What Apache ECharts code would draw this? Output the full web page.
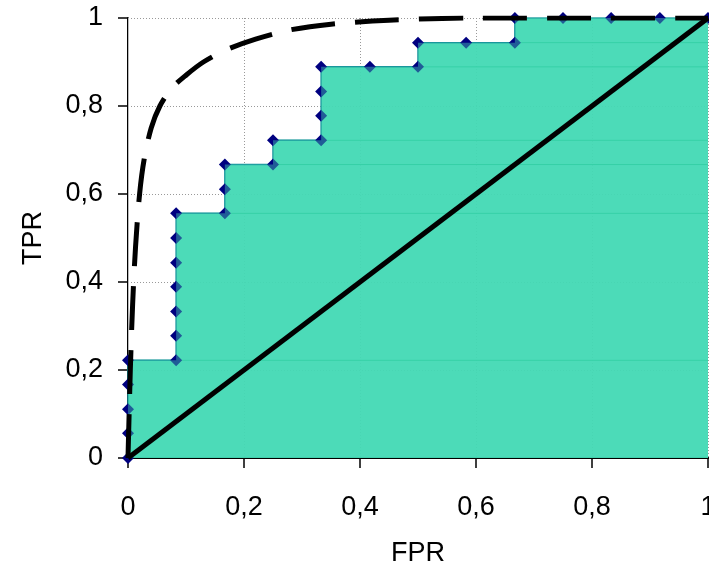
<!DOCTYPE html>
<html>
<head>
<meta charset="utf-8">
<script src="https://cdn.jsdelivr.net/npm/echarts@6/dist/echarts.min.js"></script>
<style>html,body{margin:0;padding:0;background:#fff;}#c{width:709px;height:567px;}</style>
</head>
<body>
<div id="c"></div>
<script>
// Empirical ROC step curve (FPR, TPR)
const stepFpr = [0,0,0,0,0,
  0.083,0.083,0.083,0.083,0.083,0.083,0.083,
  0.167,0.167,0.167,
  0.25,0.25,
  0.333,0.333,0.333,0.333,
  0.417,
  0.5,0.5,
  0.583,
  0.667,0.667,
  0.75,0.833,0.917,1];
const stepTpr = [0,0.056,0.111,0.167,0.222,
  0.222,0.278,0.333,0.389,0.444,0.5,0.556,
  0.556,0.611,0.667,
  0.667,0.722,
  0.722,0.778,0.833,0.889,
  0.889,
  0.889,0.944,
  0.944,
  0.944,1,
  1,1,1,1];
// Smooth (fitted) ROC curve
const rocFpr = [0,0.004,0.008,0.013,0.02,0.028,0.04,0.055,0.075,0.1,0.13,0.17,0.22,0.28,0.35,0.45,0.6,0.8,1];
const rocTpr = [0,0.2,0.35,0.48,0.6,0.68,0.75,0.8,0.84,0.87,0.9,0.928,0.952,0.973,0.986,0.995,1,1,1];
// Chance diagonal
const diagFpr = [0,1];
const diagTpr = [0,1];
// Ticks
const xTicks = [0,0.2,0.4,0.6,0.8,1];
const yTicks = [0,0.2,0.4,0.6,0.8,1];
const xName = 'FPR';
const yName = 'TPR';

const zip = (a,b) => a.map((v,i)=>[v,b[i]]);
const stepData = zip(stepFpr, stepTpr);

// horizontal level lines extending to the right edge
const levelSeries = [];
for (let i = 0; i < stepData.length - 1; i++) {
  if (stepTpr[i] === stepTpr[i+1] && stepFpr[i] !== stepFpr[i+1] && (i === 0 || stepTpr[i-1] !== stepTpr[i])) {
    levelSeries.push({
      type:'line', z:3, silent:true, symbol:'none',
      data:[[stepFpr[i], stepTpr[i]],[1, stepTpr[i]]],
      lineStyle:{color:'#26C99C', width:1}
    });
  }
}

const fmt = v => String(+v.toFixed(1)).replace('.', ',');
const font = {fontFamily:'"Liberation Sans", Arial, sans-serif', fontSize:27, color:'#000'};

const chart = echarts.init(document.getElementById('c'), null, {renderer:'canvas'});
chart.setOption({
  animation:false,
  backgroundColor:'#fff',
  grid:{left:128, right:1, top:18, bottom:109, containLabel:false, outerBoundsMode:'none'},
  xAxis:[{
    type:'value', min:xTicks[0], max:xTicks[xTicks.length-1], interval:0.2,
    name:xName, nameLocation:'middle', nameGap:82, nameTextStyle:font,
    axisLine:{show:true, onZero:false, lineStyle:{color:'#000', width:2}},
    axisTick:{show:true, inside:false, length:10, lineStyle:{color:'#000', width:1.5}},
    axisLabel:Object.assign({margin:36, formatter:fmt}, font),
    splitLine:{show:true, lineStyle:{color:'#999', width:1, type:[1,2]}}
  },{
    type:'value', position:'top', min:0, max:1,
    axisLine:{show:true, lineStyle:{color:'#000', width:2}},
    axisTick:{show:false}, axisLabel:{show:false}, splitLine:{show:false}
  }],
  yAxis:[{
    type:'value', min:yTicks[0], max:yTicks[yTicks.length-1], interval:0.2,
    name:yName, nameLocation:'middle', nameGap:81, nameTextStyle:font,
    axisLine:{show:true, onZero:false, lineStyle:{color:'#000', width:2}},
    axisTick:{show:true, inside:false, length:10, lineStyle:{color:'#000', width:1.5}},
    axisLabel:Object.assign({margin:25, formatter:fmt}, font),
    splitLine:{show:true, lineStyle:{color:'#999', width:1, type:[1,2]}}
  },{
    type:'value', position:'right', min:0, max:1,
    axisLine:{show:true, lineStyle:{color:'#bbb', width:1}},
    axisTick:{show:false}, axisLabel:{show:false}, splitLine:{show:false}
  }],
  series:[
    {
      type:'line', z:2, silent:true, symbol:'none', data:stepData,
      lineStyle:{width:0, opacity:0},
      areaStyle:{color:'#3ED8B2', opacity:0.92, origin:'start'}
    },
    ...levelSeries,
    {
      type:'line', z:4, silent:true, data:stepData,
      symbol:'diamond', symbolSize:12,
      itemStyle:{color:'#000080'},
      lineStyle:{color:'#14909A', width:1.5}
    },
    {
      type:'line', z:5, silent:true, symbol:'none', data:stepData,
      lineStyle:{width:0, opacity:0},
      areaStyle:{color:'rgba(77,219,184,0.6)', origin:'start'}
    },
    {
      type:'line', z:6, silent:true, symbol:'none', data:zip(diagFpr, diagTpr),
      lineStyle:{color:'#000', width:5}
    },
    {
      type:'line', z:6, silent:true, symbol:'none', smooth:0.3,
      data:zip(rocFpr, rocTpr),
      lineStyle:{color:'#000', width:5, type:[44,20], cap:'butt'}
    }
  ]
});
</script>
</body>
</html>
